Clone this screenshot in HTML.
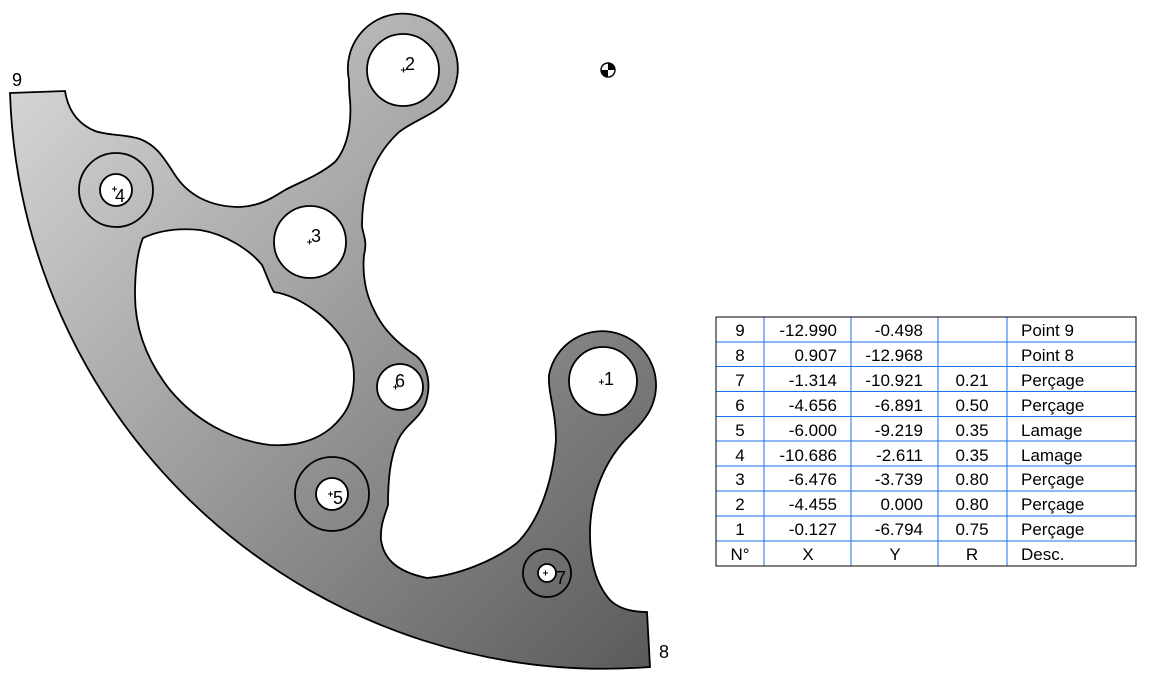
<!DOCTYPE html>
<html><head><meta charset="utf-8"><style>
html,body{margin:0;padding:0;background:#fff;width:1153px;height:694px;overflow:hidden}
svg{position:absolute;left:0;top:0}
text{font-family:"Liberation Sans",Arial,sans-serif}
</style></head><body>
<svg width="1153" height="694" viewBox="0 0 1153 694" xmlns="http://www.w3.org/2000/svg">
<defs>
<linearGradient id="g" x1="0" y1="0" x2="1" y2="1" gradientUnits="objectBoundingBox">
<stop offset="0" stop-color="#dcdcdc"/><stop offset="1" stop-color="#5a5a5a"/>
</linearGradient>
</defs>
<path fill="url(#g)" fill-rule="evenodd" stroke="#000" stroke-width="1.8" d="
M10,93 L65,91 C68,110 78,124 95,131 C110,136 125,134 140,139 C158,146 165,160 175,175 C188,195 210,207 240,207 C262,206 275,196 285,190 C300,182 318,176 335,162 C347,148 352,125 350,100 C349,92 349,86 349,80 A55,55 0 1 1 448,100 C435,115 410,122 398,133 C378,152 362,180 362,225 C362,233 368,240 364,255 C362,275 366,295 374,310 C383,330 400,345 415,355 C428,365 432,385 425,405 C418,420 405,425 398,440 C390,458 388,480 388,505 C385,515 380,525 381,540 C384,560 398,572 427,578 C460,575 495,560 517,543 C540,520 553,480 556,440 C556,410 548,395 549,375 A54,54 0 1 1 650,410 C645,420 635,430 625,440 C605,462 590,495 590,533 C590,560 595,583 610,600 C620,610 635,612 647,612 L650,667 A595,595 0 0 1 10,93 Z
M143,238 C160,230 180,228 200,230 C225,234 250,250 262,265 C268,278 270,286 274,292 C300,296 330,318 347,345 C357,365 356,395 345,412 C330,435 305,447 270,445 C230,440 195,420 170,390 C148,362 135,330 135,295 C135,270 138,250 143,238 Z
M439,70 A36,36 0 1 0 367,70 A36,36 0 1 0 439,70 Z
M346,242 A36,36 0 1 0 274,242 A36,36 0 1 0 346,242 Z
M132,190 A16,16 0 1 0 100,190 A16,16 0 1 0 132,190 Z
M423,387 A23,23 0 1 0 377,387 A23,23 0 1 0 423,387 Z
M637,381 A34,34 0 1 0 569,381 A34,34 0 1 0 637,381 Z
M348,494 A16,16 0 1 0 316,494 A16,16 0 1 0 348,494 Z
M556,573 A9,9 0 1 0 538,573 A9,9 0 1 0 556,573 Z"/>
<g fill="none" stroke="#000" stroke-width="1.8">
<circle cx="116" cy="190" r="37"/>
<circle cx="332" cy="494" r="37"/>
<circle cx="547" cy="573" r="24"/>
</g>
<g stroke="#000" stroke-width="1">
<path d="M401,70h5M403.5,67.5v5 M307,242h5M309.5,239.5v5 M112,189h5M114.5,186.5v5 M393,387h5M395.5,384.5v5 M599,382h5M601.5,379.5v5 M328,494h5M330.5,491.5v5 M543,573h5M545.5,570.5v5"/>
</g>
<g font-size="18" fill="#000">
<text x="405" y="70">2</text><text x="311" y="242">3</text><text x="115" y="202">4</text>
<text x="395" y="387">6</text><text x="604" y="385">1</text><text x="333" y="504">5</text>
<text x="556" y="584">7</text><text x="12" y="86">9</text><text x="659" y="658">8</text>
</g>
<g transform="translate(608,70)">
<circle r="7" fill="#fff" stroke="#000" stroke-width="1.4"/>
<path d="M0,0V-7A7,7 0 0 1 7,0Z M0,0V7A7,7 0 0 1 -7,0Z" fill="#000"/>
</g>
<g stroke="#1a73e8" stroke-width="1">
<path d="M716,342H1136M716,366.5H1136M716,391.5H1136M716,416.5H1136M716,441H1136M716,466H1136M716,491H1136M716,516H1136M716,541H1136"/>
<path d="M764,317V566M851,317V566M938,317V566M1007,317V566"/>
</g>
<rect x="716" y="317" width="420" height="249" fill="none" stroke="#000" stroke-width="1"/>
<g font-size="17" fill="#000">
<g text-anchor="middle">
<text x="740" y="336">9</text><text x="740" y="361">8</text><text x="740" y="386">7</text><text x="740" y="411">6</text><text x="740" y="436">5</text><text x="740" y="461">4</text><text x="740" y="485">3</text><text x="740" y="510">2</text><text x="740" y="535">1</text><text x="740" y="560">N°</text>
<text x="808" y="560">X</text><text x="895" y="560">Y</text><text x="972" y="560">R</text>
<text x="972" y="386">0.21</text><text x="972" y="411">0.50</text><text x="972" y="436">0.35</text><text x="972" y="461">0.35</text><text x="972" y="485">0.80</text><text x="972" y="510">0.80</text><text x="972" y="535">0.75</text>
</g>
<g text-anchor="end">
<text x="837" y="336">-12.990</text><text x="837" y="361">0.907</text><text x="837" y="386">-1.314</text><text x="837" y="411">-4.656</text><text x="837" y="436">-6.000</text><text x="837" y="461">-10.686</text><text x="837" y="485">-6.476</text><text x="837" y="510">-4.455</text><text x="837" y="535">-0.127</text>
<text x="923" y="336">-0.498</text><text x="923" y="361">-12.968</text><text x="923" y="386">-10.921</text><text x="923" y="411">-6.891</text><text x="923" y="436">-9.219</text><text x="923" y="461">-2.611</text><text x="923" y="485">-3.739</text><text x="923" y="510">0.000</text><text x="923" y="535">-6.794</text>
</g>
<text x="1021" y="336">Point 9</text><text x="1021" y="361">Point 8</text><text x="1021" y="386">Perçage</text><text x="1021" y="411">Perçage</text><text x="1021" y="436">Lamage</text><text x="1021" y="461">Lamage</text><text x="1021" y="485">Perçage</text><text x="1021" y="510">Perçage</text><text x="1021" y="535">Perçage</text><text x="1021" y="560">Desc.</text>
</g>
</svg>
</body></html>
